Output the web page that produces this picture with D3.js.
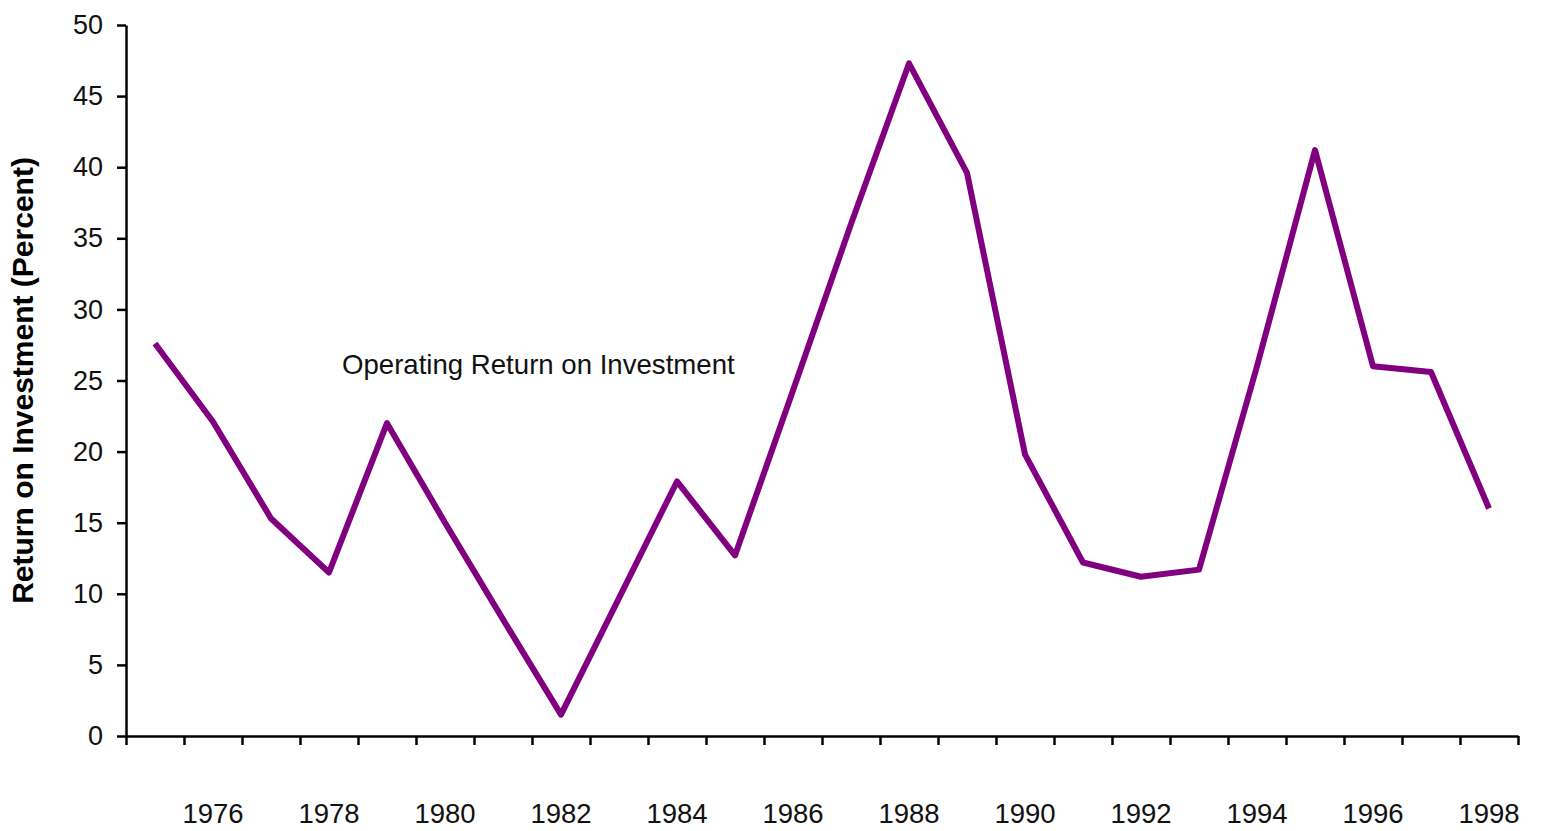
<!DOCTYPE html>
<html>
<head>
<meta charset="utf-8">
<script src="https://cdn.jsdelivr.net/npm/d3@7"></script>
<style>
  body { margin: 0; background: #fff; }
  svg { display: block; font-family: "Liberation Sans", Arial, sans-serif; }
</style>
</head>
<body>
<div id="chart"></div>
<script>
// chart data
var years = [1975, 1976, 1977, 1978, 1979, 1980, 1981, 1982, 1983, 1984, 1985, 1986,
             1987, 1988, 1989, 1990, 1991, 1992, 1993, 1994, 1995, 1996, 1997, 1998];
var roi = [27.6, 22.1, 15.3, 11.5, 22.0, 15.0, 8.2, 1.5, 9.7, 17.9, 12.7, 24.3,
           36.0, 47.3, 39.6, 19.8, 12.2, 11.2, 11.7, 26.0, 41.2, 26.0, 25.6, 16.0];
var yearLabels = [1976, 1978, 1980, 1982, 1984, 1986, 1988, 1990, 1992, 1994, 1996, 1998];
var yTicks = [0, 5, 10, 15, 20, 25, 30, 35, 40, 45, 50];
var seriesName = "Operating Return on Investment";
var yTitle = "Return on Investment (Percent)";

var width = 1543,
    height = 831,
    margin = { top: 25, right: 25, bottom: 95, left: 126 };

var svg = d3.select("#chart").append("svg")
    .attr("width", width)
    .attr("height", height);

var x = d3.scaleBand()
    .domain(years)
    .range([margin.left, width - margin.right])
    .padding(0);

// tick positions sit on the category boundaries
var xb = d3.scaleLinear()
    .domain([0, years.length])
    .range([margin.left, width - margin.right]);

var y = d3.scaleLinear()
    .domain([0, 50])
    .range([height - margin.bottom, margin.top]);

// y axis
var yAxis = svg.append("g")
    .attr("transform", "translate(" + margin.left + ",0)")
    .call(d3.axisLeft(y).tickValues(yTicks).tickSize(9).tickSizeOuter(0).tickPadding(14));
yAxis.select(".domain").attr("stroke", "#000").attr("stroke-width", 2.5);
yAxis.selectAll(".tick line").attr("stroke", "#000").attr("stroke-width", 2.5);
yAxis.selectAll(".tick text")
    .attr("font-size", 27)
    .attr("font-family", "Liberation Sans, Arial, sans-serif")
    .attr("fill", "#111");

// x axis line and ticks
var xAxis = svg.append("g")
    .attr("transform", "translate(0," + y(0) + ")")
    .call(d3.axisBottom(xb).tickValues(d3.range(0, years.length + 1)).tickSize(9).tickSizeOuter(0).tickFormat(""));
xAxis.select(".domain").attr("stroke", "#000").attr("stroke-width", 2.5);
xAxis.selectAll(".tick line").attr("stroke", "#000").attr("stroke-width", 2.5);

// year labels
svg.append("g")
    .selectAll("text")
    .data(yearLabels)
    .enter().append("text")
    .attr("x", function(d) { return x(d) + x.bandwidth() / 2; })
    .attr("y", 823)
    .attr("text-anchor", "middle")
    .attr("font-size", 27.5)
    .attr("fill", "#111")
    .text(function(d) { return d; });

// y axis title
svg.append("text")
    .attr("transform", "translate(33," + ((margin.top + y(0)) / 2) + ") rotate(-90)")
    .attr("text-anchor", "middle")
    .attr("font-size", 30)
    .attr("font-weight", "bold")
    .attr("fill", "#000")
    .text(yTitle);

// the line
var line = d3.line()
    .x(function(d, i) { return x(years[i]) + x.bandwidth() / 2; })
    .y(function(d) { return y(d); });

svg.append("path")
    .datum(roi)
    .attr("fill", "none")
    .attr("stroke", "#800080")
    .attr("stroke-width", 6)
    .attr("stroke-linejoin", "round")
    .attr("d", line);

// series label
svg.append("text")
    .attr("x", 342)
    .attr("y", 374)
    .attr("font-size", 27.6)
    .attr("fill", "#111")
    .text(seriesName);
</script>
</body>
</html>
